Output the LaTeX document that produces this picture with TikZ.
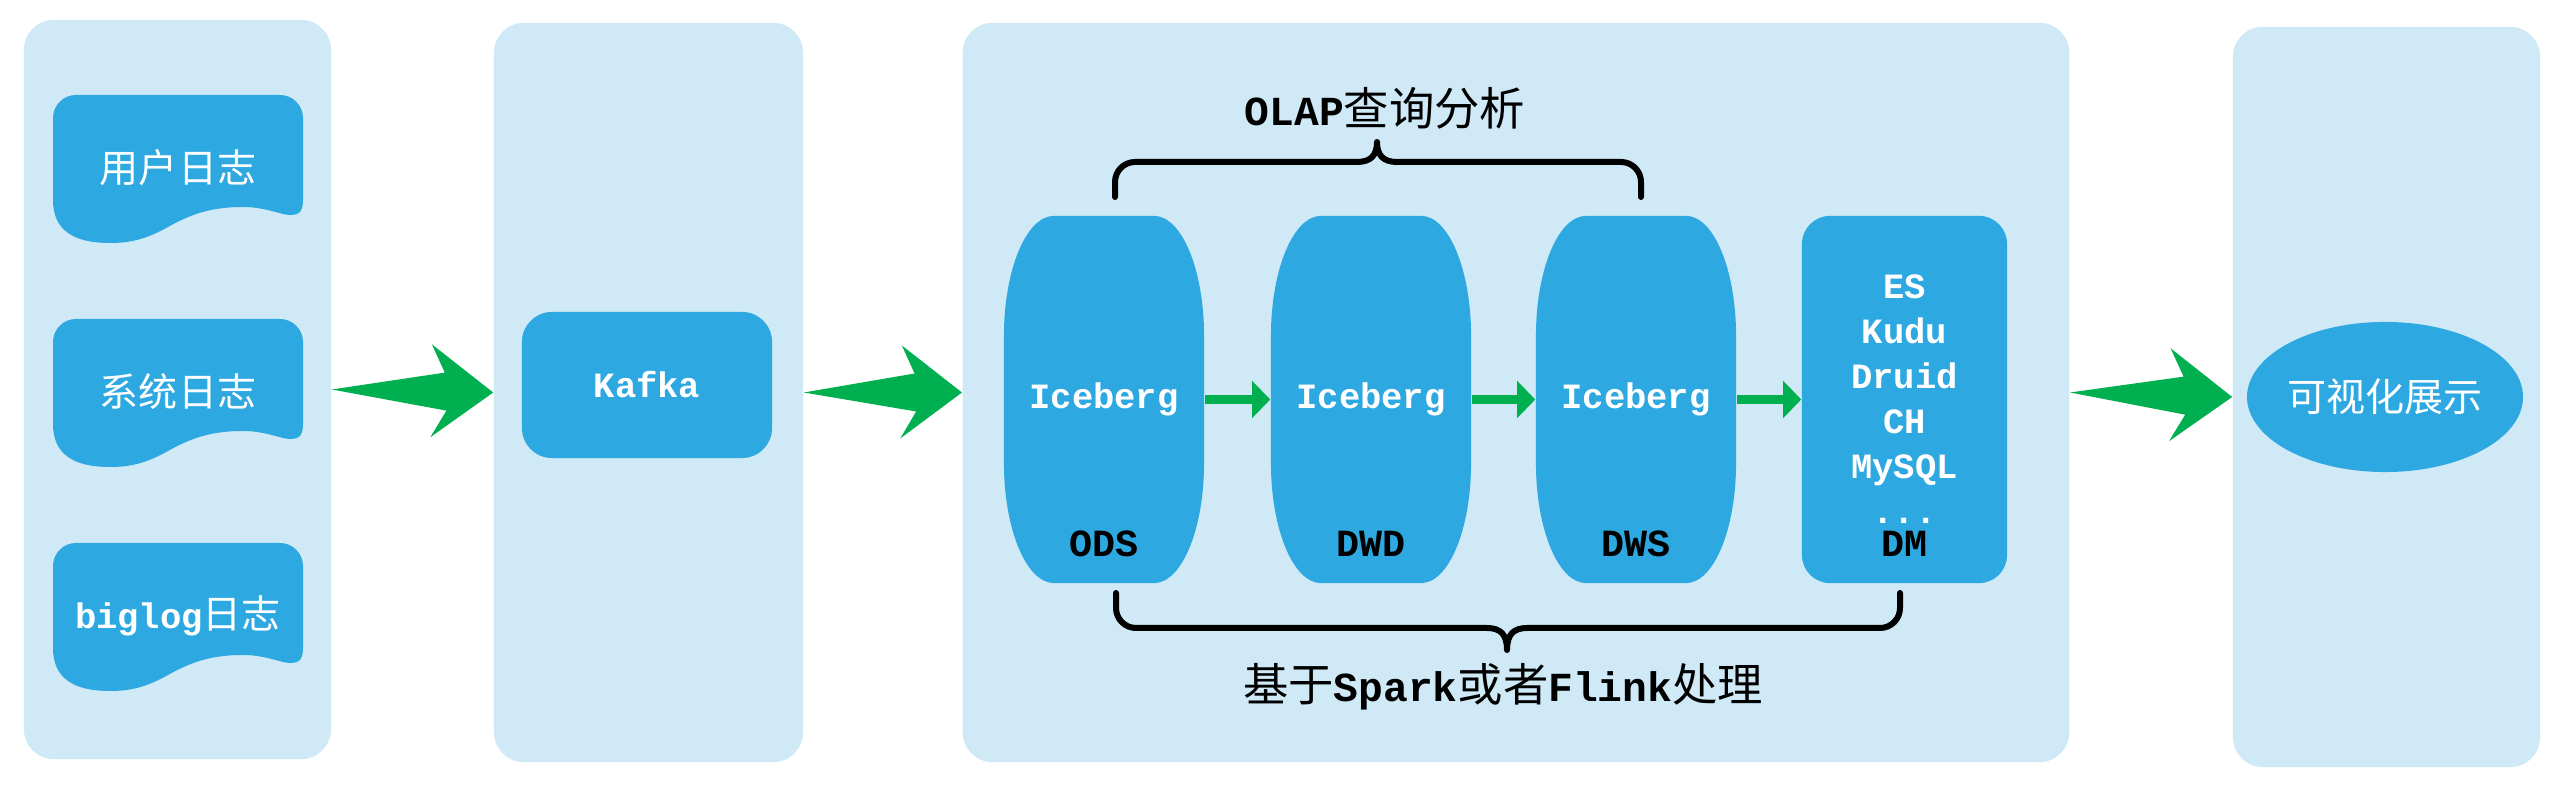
\documentclass[tikz,border=0pt]{standalone}
\usepackage{fontspec}
\setmainfont{Liberation Mono}[Scale=0.91]
\newfontfamily\cjk{Noto Sans CJK SC}
\newcommand\zh[1]{{\cjk\mdseries #1}}
\usetikzlibrary{arrows.meta, calc, shapes.geometric}

\definecolor{panelblue}{RGB}{207,234,246}
\definecolor{boxblue}{RGB}{46,168,224}
\definecolor{flowgreen}{RGB}{0,176,80}

% big dart arrow between two panels
\newcommand\flowarrow[2]{%
  \fill[flowgreen] (#1.east) -- ($(#1.east)!0.70!(#2.west)+(0,19)$)
    -- ($(#1.east)!0.62!(#2.west)+(0,47)$) -- (#2.west)
    -- ($(#1.east)!0.61!(#2.west)-(0,46)$)
    -- ($(#1.east)!0.71!(#2.west)-(0,19)$) -- cycle;}

\begin{document}
\begin{tikzpicture}[x=0.01cm, y=0.01cm,
panel/.style={fill=panelblue, rounded corners=0.3cm, inner sep=0pt, minimum height=7.39cm},
boxtext/.style={text=white, font=\fontsize{11.1pt}{12.8pt}\selectfont\bfseries},
layer/.style={boxtext, minimum width=2cm, minimum height=3.67cm, inner sep=0pt,
  path picture={
    \fill[boxblue] ([xshift=5mm]path picture bounding box.north west)
      -- ([xshift=-5mm]path picture bounding box.north east)
      arc[start angle=90, end angle=0, x radius=5mm, y radius=12mm]
      -- ([yshift=12mm]path picture bounding box.south east)
      arc[start angle=0, end angle=-90, x radius=5mm, y radius=12mm]
      -- ([xshift=5mm]path picture bounding box.south west)
      arc[start angle=270, end angle=180, x radius=5mm, y radius=12mm]
      -- ([yshift=-12mm]path picture bounding box.north west)
      arc[start angle=180, end angle=90, x radius=5mm, y radius=12mm]
      -- cycle;}},
dmbox/.style={boxtext, fill=boxblue, rounded corners=0.28cm, minimum width=2.05cm,
  minimum height=3.67cm, align=center},
tag/.style={font=\fontsize{12pt}{13pt}\selectfont\bfseries, text=black},
note/.style={font=\fontsize{12.9pt}{14pt}\selectfont\bfseries, text=black},
bracket/.style={line width=0.06cm, line join=round, line cap=round},
hop/.style={draw=flowgreen, line width=0.09cm, -{Triangle[length=0.18cm, width=0.36cm]}}]

\useasboundingbox (0,0) rectangle (2560,785);

% columns
\node[panel, minimum width=3.07cm] (src) at (177.5,395.5) {};
\node[panel, minimum width=3.09cm] (mq) at (648.5,392.5) {};
\node[panel, minimum width=11.06cm] (dw) at (1516,392.5) {};
\node[panel, minimum width=3.07cm, minimum height=7.4cm] (vis) at (2386.5,388) {};

% log sources
\foreach \top/\name/\txt in {690/user/{\zh{用户日志}}, 466/sys/{\zh{系统日志}}, 242/big/{biglog\zh{日志}}} {
  \fill[boxblue] (53,\top-105) -- (53,\top-23) arc[start angle=180, end angle=90, radius=23]
    -- (280,\top) arc[start angle=90, end angle=0, radius=23] -- (303,\top-105)
    .. controls (303,\top-118) and (298,\top-122) .. (283,\top-119)
    .. controls (268,\top-115) and (258,\top-112) .. (243,\top-112)
    .. controls (213,\top-112) and (193,\top-118) .. (168,\top-132)
    .. controls (148,\top-143) and (133,\top-148) .. (110,\top-148)
    .. controls (73,\top-148) and (53,\top-135) .. (53,\top-105) -- cycle;
  \node[boxtext] (\name) at (178,\top-73) {\txt};
}

\node[boxtext, fill=boxblue, rounded corners=0.3cm, minimum width=2.5cm, minimum height=1.46cm] (kafka) at (647,400) {Kafka};

% warehouse layers
\node[layer] (ods) at (1104,385.5) {Iceberg};
\node[layer] (dwd) at (1371,385.5) {Iceberg};
\node[layer] (dws) at (1636,385.5) {Iceberg};
\node[dmbox] (dm) at (1904.5,385.5) {ES\\Kudu\\Druid\\CH\\MySQL\\...};
\foreach \n/\t in {ods/ODS, dwd/DWD, dws/DWS, dm/DM}
  \node[tag] (\n tag) at ([yshift=0.4cm]\n.south) {\t};
\foreach \a/\b in {ods/dwd, dwd/dws, dws/dm}
  \draw[hop] (\a) -- (\b);

\draw[bracket] (1115,588) -- (1115,603) arc[start angle=180, end angle=90, radius=20] -- (1357,623)
  .. controls (1371,623) and (1377,630) .. (1377,643) .. controls (1377,630) and (1383,623) .. (1397,623)
  -- (1621,623) arc[start angle=90, end angle=0, radius=20] -- (1641,588);
\node[note] (olap) at (1385,677) {OLAP\zh{查询分析}};

\draw[bracket] (1116,192) -- (1116,177) arc[start angle=180, end angle=270, radius=20] -- (1487,157)
  .. controls (1501,157) and (1507,150) .. (1507,135) .. controls (1507,150) and (1513,157) .. (1527,157)
  -- (1880,157) arc[start angle=270, end angle=360, radius=20] -- (1900,192);
\node[note] (proc) at (1503,98) {\zh{基于}Spark\zh{或者}Flink\zh{处理}};

\node[boxtext, ellipse, fill=boxblue, minimum width=2.52cm, minimum height=1.5cm, inner sep=0pt] (screen) at (2385,388) {\zh{可视化展示}};

\flowarrow{src}{mq}
\flowarrow{mq}{dw}
\flowarrow{dw}{vis}

\end{tikzpicture}
\end{document}
